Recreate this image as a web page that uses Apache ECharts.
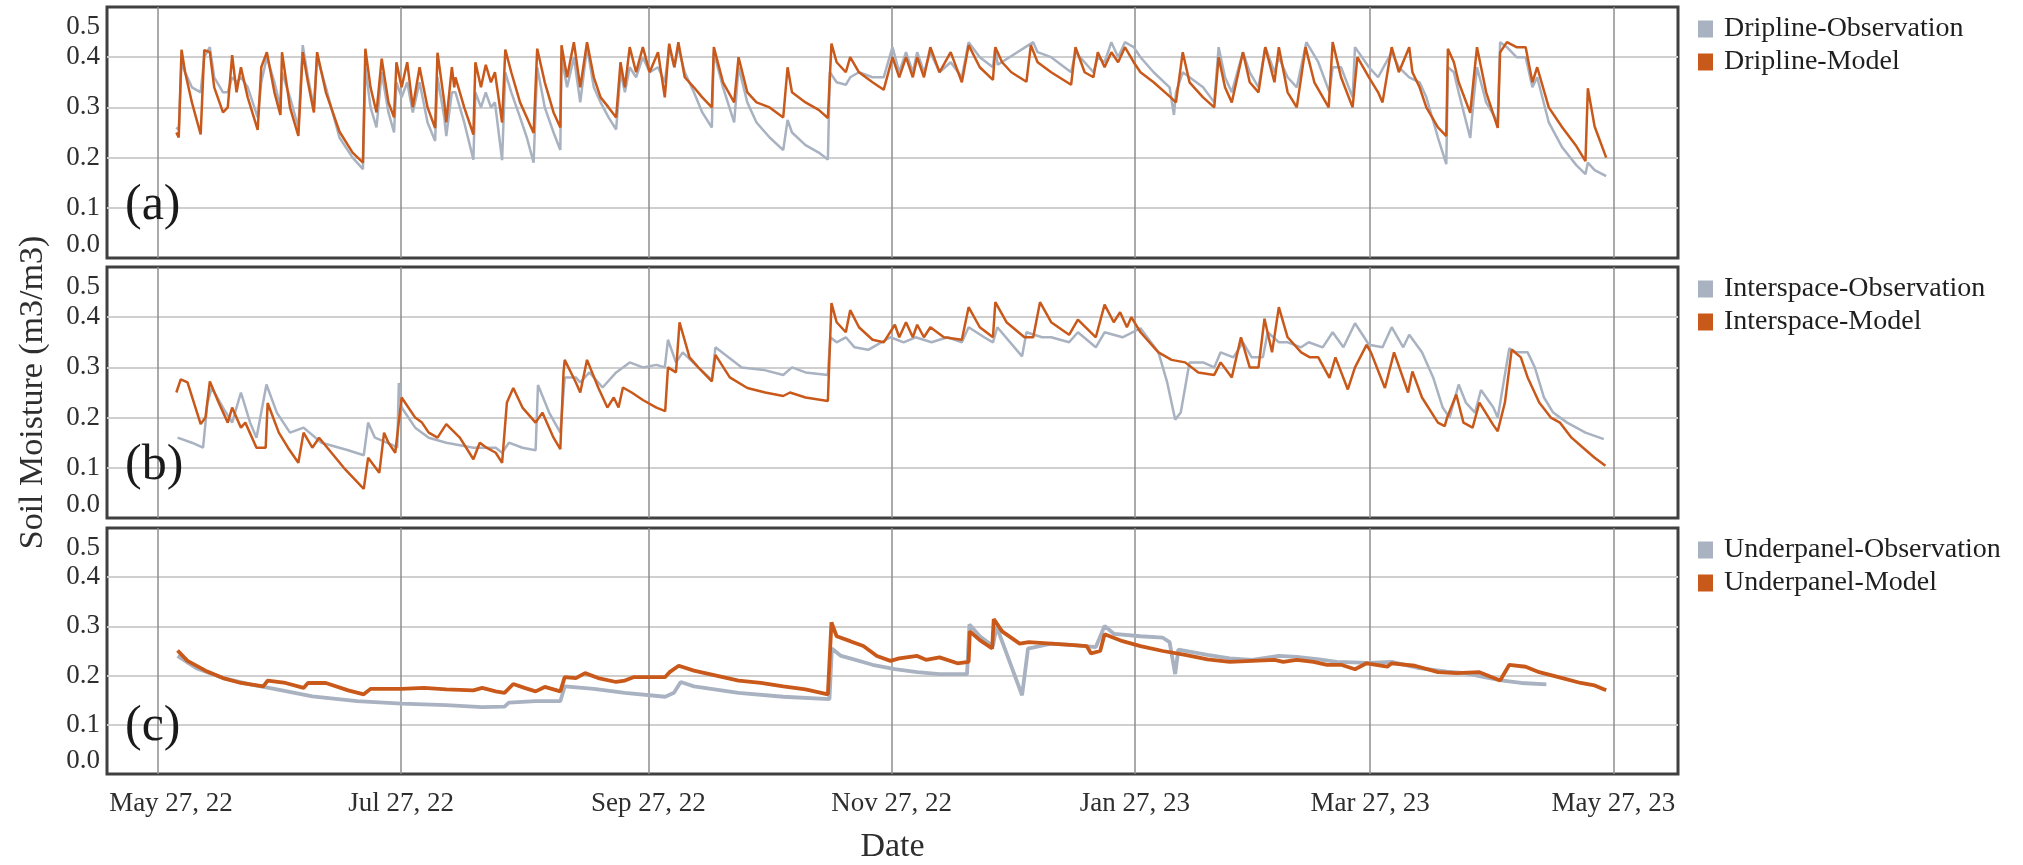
<!DOCTYPE html>
<html>
<head>
<meta charset="utf-8">
<script src="https://cdn.jsdelivr.net/npm/echarts@6/dist/echarts.min.js"></script>
<style>
  html, body { margin: 0; padding: 0; background: #ffffff; }
  #chart { width: 2023px; height: 865px; }
</style>
</head>
<body>
<div id="chart"></div>
<script>
// Day offsets are counted from this date (UTC).
const START_DATE = '2022-05-27';
const X_MIN = '2022-05-14T05:00:00Z';
const X_MAX = '2023-06-12T05:00:00Z';
const TICK_DATES = ['2022-05-27', '2022-07-27', '2022-09-27', '2022-11-27', '2023-01-27', '2023-03-27', '2023-05-27'];
const Y_TICKS = [0, 0.1, 0.2, 0.3, 0.4, 0.5];
const PANEL_LABELS = ['(a)', '(b)', '(c)'];
const SERIES_NAMES = [
  ['Dripline-Observation', 'Dripline-Model'],
  ['Interspace-Observation', 'Interspace-Model'],
  ['Underpanel-Observation', 'Underpanel-Model']
];

// [day offset, soil moisture m3/m3]
const DRIP_OBS = [[4.6,0.26],[5.2,0.255],[5.9,0.39],[6.8,0.37],[8.5,0.34],[10.7,0.33],[11.6,0.40],[13,0.42],[14.1,0.36],[16.3,0.33],[17.5,0.33],[18.6,0.36],[19.7,0.35],[20.8,0.36],[22.5,0.34],[25,0.28],[25.9,0.35],[27.3,0.40],[29.2,0.35],[30.7,0.30],[31.1,0.37],[33.1,0.32],[35.2,0.26],[36.3,0.424],[37.6,0.36],[39.1,0.30],[39.9,0.40],[42.1,0.34],[45.5,0.24],[48.8,0.20],[51.4,0.177],[52,0.38],[53.3,0.30],[54.8,0.26],[56.1,0.37],[57.8,0.29],[59.2,0.25],[59.8,0.35],[61.1,0.32],[62.5,0.35],[63.9,0.29],[65.6,0.35],[67.6,0.27],[69.5,0.233],[70.1,0.36],[71.8,0.28],[72.3,0.243],[73.7,0.33],[74.6,0.33],[76.8,0.27],[79.1,0.196],[79.6,0.33],[81,0.30],[82.2,0.33],[83.5,0.30],[84.5,0.31],[86.3,0.195],[87.1,0.37],[88.6,0.33],[90.8,0.28],[92.5,0.24],[94.2,0.19],[95.1,0.38],[97,0.30],[99.2,0.25],[100.9,0.215],[101.2,0.40],[102.6,0.34],[104.3,0.40],[105.9,0.31],[107.6,0.42],[109.3,0.34],[111,0.31],[113,0.28],[114.9,0.256],[116,0.37],[117.1,0.33],[118.3,0.38],[119.9,0.36],[121.6,0.40],[123.3,0.37],[125.4,0.38],[127.1,0.35],[128.2,0.42],[129.5,0.38],[130.5,0.42],[132.1,0.37],[134.4,0.33],[136.5,0.29],[138.9,0.26],[139.4,0.41],[141.7,0.34],[144.5,0.27],[145.6,0.38],[147.8,0.31],[150.1,0.27],[153.4,0.24],[156.8,0.215],[157.9,0.275],[159,0.25],[162.4,0.225],[165.7,0.21],[168,0.196],[168.5,0.37],[170.2,0.35],[172.5,0.345],[173.6,0.36],[175.8,0.37],[179.2,0.36],[182,0.36],[184.2,0.42],[185.9,0.37],[187.6,0.41],[189.3,0.37],[190.4,0.41],[192.1,0.37],[193.7,0.41],[196,0.37],[198.8,0.39],[201.6,0.36],[203.3,0.43],[206.1,0.40],[209.4,0.38],[210,0.42],[210.6,0.385],[219.5,0.43],[220.6,0.41],[224,0.40],[229,0.37],[230.1,0.41],[232.4,0.39],[234.6,0.37],[235.7,0.40],[237.4,0.39],[239.1,0.43],[240.8,0.40],[242.5,0.43],[244.7,0.42],[246.4,0.40],[249.7,0.37],[253.7,0.34],[254.8,0.285],[255.3,0.33],[257,0.37],[258.7,0.36],[262.1,0.34],[264.9,0.31],[266,0.42],[267.6,0.36],[269.3,0.33],[272.1,0.41],[273.8,0.37],[276,0.34],[277.7,0.42],[280,0.37],[281.1,0.40],[283.3,0.36],[285.6,0.34],[288,0.43],[291,0.39],[293.8,0.33],[294.6,0.38],[296.7,0.38],[299.6,0.32],[300.2,0.42],[303.7,0.38],[306,0.36],[309.4,0.41],[311.2,0.38],[313.8,0.36],[316.4,0.35],[318.1,0.32],[321,0.24],[323.1,0.187],[323.5,0.38],[325,0.37],[326.2,0.33],[329.1,0.239],[330,0.32],[330.8,0.38],[333.1,0.31],[336,0.27],[336.6,0.43],[338.3,0.42],[340.7,0.40],[343,0.40],[344.7,0.34],[345.9,0.36],[348.8,0.27],[352.2,0.22],[355.7,0.185],[358,0.167],[358.6,0.19],[360.3,0.175],[363.2,0.163]];

const DRIP_MOD = [[4.6,0.25],[5.2,0.24],[5.9,0.415],[6.8,0.37],[8.5,0.31],[10.7,0.246],[11.6,0.414],[13,0.41],[14.1,0.34],[16.3,0.29],[17.5,0.30],[18.6,0.404],[19.7,0.33],[20.8,0.38],[22.5,0.32],[25,0.255],[25.9,0.38],[27.3,0.41],[29.2,0.33],[30.7,0.285],[31.1,0.41],[33.1,0.30],[35.2,0.243],[36.3,0.41],[37.6,0.35],[39.1,0.29],[39.9,0.41],[42.1,0.33],[45.5,0.252],[48.8,0.21],[51.4,0.19],[52,0.417],[53.3,0.34],[54.8,0.29],[56.1,0.397],[57.8,0.31],[59.2,0.28],[59.8,0.39],[61.1,0.34],[62.5,0.39],[63.9,0.30],[65.6,0.38],[67.6,0.30],[69.5,0.259],[70.1,0.409],[71.8,0.31],[72.3,0.27],[73.7,0.38],[74.3,0.34],[74.6,0.36],[76.8,0.30],[79.1,0.246],[79.6,0.39],[81,0.34],[82.2,0.385],[83.5,0.35],[84.5,0.37],[86.3,0.27],[87.1,0.415],[88.6,0.37],[90.8,0.31],[92.5,0.28],[94.2,0.249],[95.1,0.417],[97,0.35],[99.2,0.29],[100.9,0.26],[101.2,0.424],[102.6,0.36],[104.3,0.43],[105.9,0.34],[107.6,0.43],[109.3,0.36],[111,0.32],[113,0.30],[114.9,0.28],[116,0.39],[117.1,0.34],[118.3,0.42],[119.9,0.37],[121.6,0.42],[123.3,0.37],[125.4,0.41],[127.1,0.32],[128.2,0.427],[129.5,0.38],[130.5,0.43],[132.1,0.36],[134.4,0.34],[136.5,0.32],[138.9,0.30],[139.4,0.42],[141.7,0.35],[144.5,0.31],[145.6,0.40],[147.8,0.33],[150.1,0.31],[153.4,0.30],[156.8,0.28],[157.9,0.38],[159,0.33],[162.4,0.31],[165.7,0.295],[168,0.279],[168.9,0.427],[170.2,0.39],[172.5,0.37],[173.6,0.40],[175.8,0.37],[179.2,0.35],[182,0.335],[184.2,0.40],[185.9,0.36],[187.6,0.40],[189.3,0.36],[190.4,0.40],[192.1,0.36],[193.7,0.42],[196,0.37],[198.8,0.41],[201.6,0.35],[203.3,0.424],[206.1,0.38],[209.4,0.355],[210,0.42],[211.7,0.39],[214,0.37],[217.8,0.351],[218.9,0.424],[220.6,0.39],[224,0.37],[229,0.345],[230.1,0.42],[232.4,0.37],[234.6,0.36],[235.7,0.41],[237.4,0.38],[239.1,0.41],[240.8,0.39],[242.5,0.42],[244.7,0.39],[246.4,0.37],[249.7,0.35],[253.7,0.322],[255.3,0.31],[257,0.41],[258.7,0.35],[262.1,0.32],[264.9,0.30],[266,0.40],[267.6,0.34],[269.3,0.31],[272.1,0.41],[273.8,0.35],[276,0.33],[277.7,0.42],[280,0.35],[281.1,0.42],[283.3,0.33],[285.6,0.30],[287.8,0.42],[290,0.35],[293.6,0.30],[294.6,0.43],[296.7,0.36],[299.6,0.30],[300.8,0.40],[303.7,0.36],[306,0.33],[307.1,0.31],[309.4,0.42],[311.2,0.37],[313.8,0.42],[314.6,0.37],[316.4,0.34],[318.1,0.30],[321,0.26],[323.1,0.243],[323.5,0.417],[325,0.39],[326.2,0.35],[329.1,0.289],[330,0.36],[330.8,0.42],[333.1,0.33],[336,0.259],[336.6,0.41],[338.3,0.43],[340.7,0.42],[343,0.42],[344.7,0.35],[345.9,0.38],[348.8,0.30],[352.2,0.26],[355.7,0.223],[358,0.193],[358.6,0.338],[360.3,0.262],[363.2,0.20]];

const INTER_OBS = [[4.9,0.16],[8.5,0.15],[11.3,0.14],[12.4,0.23],[13.5,0.259],[16.3,0.22],[18.6,0.19],[20.8,0.25],[23.1,0.19],[24.7,0.16],[27.2,0.266],[29.8,0.21],[33.1,0.17],[36.5,0.18],[41,0.15],[47.7,0.135],[51.6,0.125],[52.7,0.19],[54.4,0.16],[58.9,0.145],[60,0.14],[60.4,0.269],[61.1,0.22],[64.5,0.18],[67.9,0.16],[72.3,0.15],[79.1,0.14],[84.7,0.14],[86.3,0.13],[88,0.15],[91.4,0.14],[94.7,0.135],[95.3,0.265],[98.1,0.21],[100.9,0.17],[102,0.28],[104.8,0.28],[105.9,0.27],[108.2,0.29],[111.5,0.26],[114.9,0.29],[118.3,0.31],[121.6,0.30],[125,0.305],[127.1,0.30],[127.9,0.355],[129.9,0.31],[131.6,0.33],[135.5,0.30],[138.9,0.275],[139.8,0.34],[146.4,0.30],[151.9,0.295],[156.8,0.285],[159,0.30],[162.4,0.29],[168,0.285],[168.6,0.36],[170.2,0.35],[172.5,0.36],[174.7,0.34],[178.1,0.335],[180.3,0.345],[183.7,0.36],[187,0.35],[190,0.36],[194,0.35],[198,0.36],[201.6,0.35],[203.3,0.38],[207.2,0.36],[209.4,0.35],[210.5,0.38],[216.7,0.322],[217.8,0.37],[221.7,0.36],[224,0.36],[228.5,0.35],[230.7,0.37],[235.2,0.34],[237.4,0.37],[241.9,0.36],[246.4,0.378],[250.9,0.33],[253.1,0.27],[255.1,0.196],[256.5,0.21],[257.6,0.26],[258.7,0.31],[262.1,0.31],[264.9,0.30],[266.5,0.33],[269.7,0.32],[272.1,0.35],[274.3,0.32],[277.1,0.32],[278.3,0.37],[281.1,0.35],[283.3,0.35],[286.7,0.34],[288.6,0.35],[292.1,0.34],[294.6,0.37],[297.3,0.34],[300.2,0.388],[302.5,0.36],[303.7,0.345],[307.1,0.34],[309.4,0.38],[312.3,0.34],[313.8,0.365],[317,0.33],[319.8,0.28],[322.2,0.22],[323.9,0.20],[326.2,0.266],[328,0.23],[330.3,0.21],[331.8,0.255],[334.9,0.22],[336,0.20],[338.9,0.338],[340.6,0.33],[343.5,0.33],[345.3,0.30],[347.6,0.24],[349.9,0.21],[353.4,0.19],[358,0.17],[362.6,0.157]];

const INTER_MOD = [[4.6,0.25],[5.7,0.276],[7.4,0.27],[10.7,0.187],[11.9,0.20],[13,0.272],[15.2,0.23],[17.5,0.19],[18.6,0.22],[20.8,0.18],[21.9,0.19],[24.7,0.14],[27,0.14],[27.5,0.229],[30.3,0.17],[32.6,0.14],[35.2,0.11],[36.5,0.17],[38.7,0.14],[40.4,0.16],[46.6,0.10],[51.6,0.058],[52.7,0.12],[55.5,0.09],[56.7,0.17],[57.8,0.15],[59.5,0.13],[61.1,0.24],[64.5,0.20],[66.2,0.19],[67.9,0.17],[70.1,0.16],[72.3,0.187],[75.7,0.16],[79.1,0.117],[80.7,0.15],[82.4,0.14],[84.7,0.13],[86.3,0.11],[87.5,0.23],[89.1,0.259],[91.4,0.22],[94.7,0.19],[96.4,0.21],[99.2,0.16],[100.9,0.137],[101.7,0.29],[102,0.315],[104.8,0.27],[105.9,0.25],[107.6,0.315],[110.4,0.26],[112.7,0.22],[114.3,0.24],[115.5,0.22],[116.6,0.26],[118.8,0.25],[121.6,0.235],[125,0.22],[127.2,0.213],[127.9,0.30],[129.9,0.29],[130.8,0.39],[133.3,0.32],[135.5,0.30],[138.9,0.272],[139.8,0.325],[143.4,0.28],[147.8,0.259],[152.3,0.25],[156.8,0.243],[158.5,0.25],[162.4,0.24],[168,0.233],[168.9,0.428],[170.2,0.39],[172.5,0.37],[173.6,0.414],[175.8,0.38],[179.2,0.355],[182,0.35],[184.8,0.385],[185.9,0.36],[187.6,0.39],[189.3,0.36],[190.4,0.385],[192.1,0.36],[193.7,0.38],[197.1,0.36],[201.6,0.355],[203.3,0.42],[206.1,0.38],[209.4,0.36],[210,0.43],[212.8,0.39],[217.3,0.36],[219.5,0.36],[221.2,0.43],[224,0.39],[228.5,0.365],[230.7,0.395],[235.2,0.36],[237.4,0.425],[239.7,0.39],[241.3,0.41],[243,0.38],[244.1,0.40],[246.4,0.37],[250.9,0.33],[254.2,0.315],[257.6,0.31],[260.9,0.29],[264.9,0.285],[266.5,0.31],[269.3,0.28],[271.6,0.36],[273.8,0.30],[276,0.30],[277.5,0.397],[279.4,0.33],[281.1,0.42],[283.3,0.36],[286.7,0.33],[288.9,0.32],[291,0.32],[293.8,0.279],[295.3,0.32],[298.4,0.256],[300.2,0.30],[303.1,0.345],[304.2,0.33],[307.7,0.259],[310,0.33],[313.5,0.25],[314.6,0.292],[317,0.24],[321,0.19],[322.7,0.183],[323.3,0.20],[325.6,0.246],[327.4,0.19],[329.7,0.18],[331.4,0.23],[334.9,0.185],[336,0.173],[337.8,0.23],[339.5,0.335],[341.8,0.32],[343.5,0.28],[346.4,0.23],[349.3,0.20],[351.6,0.19],[354.5,0.16],[357.4,0.14],[360.3,0.12],[363,0.104]];

const UNDER_OBS = [[4.9,0.24],[9.6,0.215],[16.3,0.195],[23.1,0.182],[29.8,0.172],[38.7,0.158],[49.9,0.148],[61.1,0.143],[72.3,0.14],[81.3,0.136],[86.9,0.137],[88,0.145],[94.7,0.148],[100.9,0.148],[102,0.178],[109.3,0.173],[117.1,0.165],[127.2,0.157],[129.4,0.165],[131.1,0.187],[134.4,0.178],[145.6,0.165],[156.8,0.157],[168.4,0.152],[169,0.255],[171.3,0.24],[173.6,0.235],[179.2,0.222],[184.8,0.213],[190.4,0.207],[196,0.203],[202.9,0.203],[203.5,0.304],[206.1,0.28],[209.4,0.26],[210.3,0.30],[216.7,0.16],[218.2,0.255],[224,0.265],[229.6,0.262],[235.2,0.258],[237.4,0.301],[239.7,0.285],[246.4,0.28],[252,0.277],[253.7,0.268],[255.1,0.203],[255.9,0.253],[263.2,0.242],[268.8,0.235],[274.4,0.232],[281.1,0.24],[285.6,0.238],[291.2,0.233],[295.6,0.228],[303.7,0.226],[309.4,0.228],[316.3,0.215],[323.3,0.208],[327.9,0.205],[332.6,0.197],[337.3,0.19],[341.9,0.185],[348.2,0.182]];

const UNDER_MOD = [[4.9,0.251],[7.4,0.23],[11.9,0.21],[16.3,0.195],[20.8,0.185],[26.4,0.178],[27.5,0.19],[32,0.185],[36.5,0.175],[37.6,0.185],[42.1,0.185],[47.7,0.17],[51.6,0.162],[53.3,0.173],[61.1,0.173],[66.7,0.175],[72.3,0.172],[79.1,0.17],[81.3,0.175],[84.7,0.168],[86.9,0.165],[89.1,0.183],[91.9,0.175],[94.7,0.168],[97,0.177],[100.9,0.168],[102,0.197],[104.8,0.195],[107.1,0.205],[110.4,0.195],[114.9,0.187],[117.1,0.19],[119.4,0.197],[127.2,0.197],[128.3,0.207],[130.6,0.22],[134.4,0.21],[140,0.20],[145.6,0.19],[151.2,0.185],[156.8,0.178],[162.4,0.172],[168,0.162],[168.9,0.308],[170.2,0.28],[173.6,0.27],[176.9,0.26],[180.3,0.24],[183.7,0.23],[185.9,0.235],[190.4,0.24],[192.6,0.232],[196,0.237],[200.5,0.225],[203.3,0.228],[203.6,0.29],[206.1,0.272],[209.2,0.255],[209.6,0.315],[211.7,0.29],[216.1,0.265],[218.4,0.268],[224,0.265],[229.6,0.262],[232.9,0.26],[234,0.245],[236.3,0.25],[237.4,0.284],[241.9,0.27],[246.4,0.26],[252,0.25],[257.6,0.242],[263.2,0.233],[268.8,0.228],[274.4,0.23],[280,0.232],[282.2,0.228],[285.6,0.232],[289.8,0.228],[293.2,0.222],[296.7,0.222],[300.2,0.213],[303.1,0.225],[308.3,0.218],[309.4,0.225],[315.2,0.22],[321,0.207],[325.6,0.205],[331.4,0.207],[336.6,0.19],[338.9,0.222],[343,0.218],[346.4,0.207],[352.2,0.195],[356.8,0.185],[360.3,0.18],[363.2,0.17]];

const PANEL_DATA = [[DRIP_OBS, DRIP_MOD], [INTER_OBS, INTER_MOD], [UNDER_OBS, UNDER_MOD]];

// ---- styling ----
const FONT = '"Liberation Serif", "Times New Roman", serif';
const OBS_COLOR = '#a9b2c1';
const MOD_COLOR = '#c9591a';
const TEXT_COLOR = '#2e2e2e';
const PLOT_LEFT = 107, PLOT_WIDTH = 1571, PANEL_H = 251;
const PANEL_TOPS = [7, 267, 528];

const DAY_MS = 86400000;
const T0 = Date.parse(START_DATE + 'T00:00:00Z');
const toSeries = arr => arr.map(([d, v]) => [T0 + d * DAY_MS, v]);
const TICK_TIMES = TICK_DATES.map(s => Date.parse(s + 'T00:00:00Z'));
const MONTHS = ['Jan','Feb','Mar','Apr','May','Jun','Jul','Aug','Sep','Oct','Nov','Dec'];
function dateLabel(t) {
  const d = new Date(t);
  return MONTHS[d.getUTCMonth()] + ' ' + d.getUTCDate() + ', ' + String(d.getUTCFullYear()).slice(2);
}

const labelFont = { fontFamily: FONT, fontSize: 27, color: TEXT_COLOR };

const grids = PANEL_TOPS.map(top => ({
  left: PLOT_LEFT, width: PLOT_WIDTH, top: top, height: PANEL_H,
  show: true, borderColor: '#404040', borderWidth: 3, backgroundColor: '#ffffff'
}));

// Time runs along a numeric axis (ms) so the date ticks can sit on the 27th of every second month.
const xAxes = PANEL_TOPS.map((_, i) => ({
  type: 'value', gridIndex: i,
  min: Date.parse(X_MIN), max: Date.parse(X_MAX),
  axisLine: { show: false },
  axisTick: { show: false, customValues: TICK_TIMES },
  axisLabel: Object.assign({
    show: i === 2,
    customValues: TICK_TIMES,
    margin: 16,
    hideOverlap: false,
    showMinLabel: true, showMaxLabel: true,
    formatter: v => (v === TICK_TIMES[0] ? '{first|' + dateLabel(v) + '}' : dateLabel(v)),
    rich: { first: Object.assign({ padding: [0, 0, 0, 26] }, labelFont) }
  }, labelFont),
  splitLine: { show: true, lineStyle: { color: '#8e8e8e', width: 1.5 } },
  name: i === 2 ? 'Date' : '',
  nameLocation: 'middle', nameGap: 56,
  nameTextStyle: { fontFamily: FONT, fontSize: 34, color: TEXT_COLOR }
}));

const yAxes = PANEL_TOPS.map((_, i) => ({
  type: 'value', gridIndex: i,
  min: Y_TICKS[0], max: Y_TICKS[Y_TICKS.length - 1], interval: 0.1,
  axisLine: { show: false },
  axisTick: { show: false },
  axisLabel: Object.assign({
    margin: 7,
    formatter: v => {
      const s = v.toFixed(1);
      if (Math.abs(v - Y_TICKS[Y_TICKS.length - 1]) < 1e-9) return '{top|' + s + '}';
      if (Math.abs(v - Y_TICKS[0]) < 1e-9) return '{bot|' + s + '}';
      return s;
    },
    rich: {
      top: Object.assign({ padding: [40, 0, 0, 0] }, labelFont),
      bot: Object.assign({ padding: [0, 0, 26, 0] }, labelFont)
    }
  }, labelFont),
  splitLine: { show: true, showMinLine: false, showMaxLine: false, lineStyle: { color: '#cfcfcf', width: 2 } },
  name: i === 1 ? 'Soil Moisture (m3/m3)' : '',
  nameLocation: 'middle', nameRotate: 90, nameGap: 57,
  nameTextStyle: { fontFamily: FONT, fontSize: 34, color: TEXT_COLOR }
}));

const series = [];
PANEL_DATA.forEach(([obs, mod], i) => {
  const w = i === 2 ? 3.8 : 2.5;
  series.push({
    type: 'line', name: SERIES_NAMES[i][0], xAxisIndex: i, yAxisIndex: i,
    data: toSeries(obs), symbol: 'none', showSymbol: false,
    lineStyle: { color: OBS_COLOR, width: w }, itemStyle: { color: OBS_COLOR },
    emphasis: { disabled: true }, z: 2
  });
  series.push({
    type: 'line', name: SERIES_NAMES[i][1], xAxisIndex: i, yAxisIndex: i,
    data: toSeries(mod), symbol: 'none', showSymbol: false,
    lineStyle: { color: MOD_COLOR, width: w }, itemStyle: { color: MOD_COLOR },
    emphasis: { disabled: true }, z: 3
  });
});

const legends = PANEL_TOPS.map((top, i) => ({
  data: SERIES_NAMES[i],
  orient: 'vertical', left: 1693, top: top + 2,
  icon: 'rect', itemWidth: 15, itemHeight: 17, itemGap: 3,
  selectedMode: false,
  textStyle: { fontFamily: FONT, fontSize: 28, lineHeight: 30, color: '#1f1f1f', padding: [0, 0, 0, 6] }
}));

const panelLabels = PANEL_LABELS.map((txt, i) => ({
  type: 'text', left: 125, top: PANEL_TOPS[i] + 174, z: 10,
  style: { text: txt, font: '50px ' + FONT, fill: '#1a1a1a' }
}));

const chart = echarts.init(document.getElementById('chart'), null, { renderer: 'canvas' });
chart.setOption({
  animation: false,
  backgroundColor: '#ffffff',
  grid: grids,
  xAxis: xAxes,
  yAxis: yAxes,
  legend: legends,
  series: series,
  graphic: panelLabels
});
</script>
</body>
</html>
